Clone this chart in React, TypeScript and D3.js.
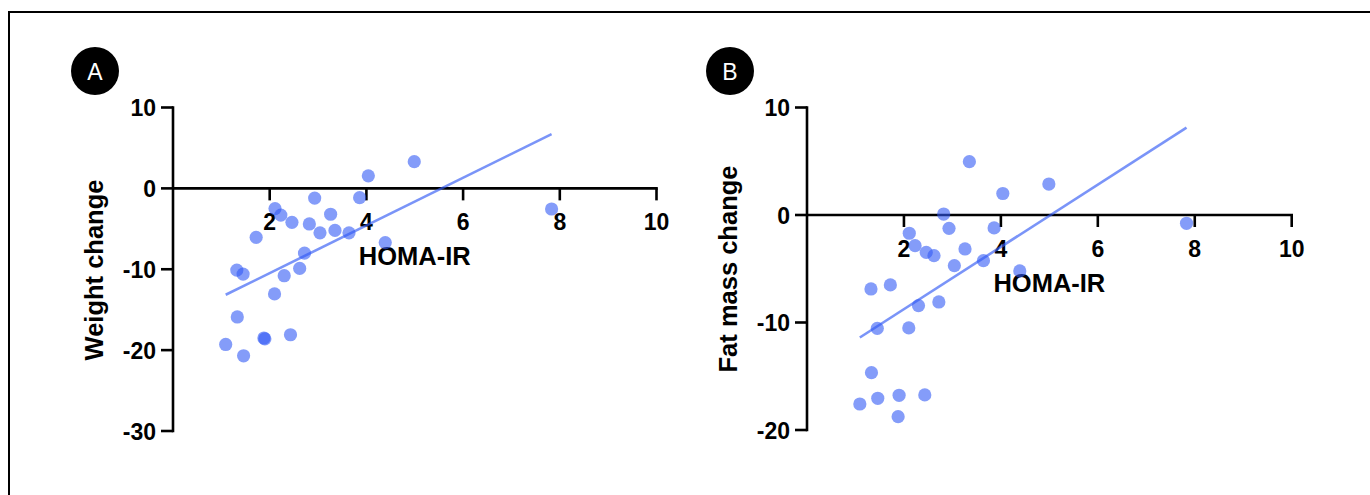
import React from "react";
import * as d3 from "d3";

const homaIR = [4.99, 4.04, 2.93, 3.86, 2.11, 2.23, 3.26, 2.46, 2.82, 3.04, 3.35, 3.64, 1.72, 4.39, 2.72, 2.62, 1.32, 1.45, 2.3, 2.1, 1.33, 1.09, 1.46, 1.88, 1.9, 2.43, 7.83];
const weightChange = [3.3, 1.55, -1.2, -1.15, -2.5, -3.3, -3.2, -4.2, -4.4, -5.5, -5.2, -5.5, -6.05, -6.7, -8.0, -9.9, -10.1, -10.6, -10.8, -13.05, -15.9, -19.3, -20.7, -18.5, -18.6, -18.1, -2.55];
const fatMassChange = [2.88, 2.0, -1.24, -1.2, -1.7, -2.85, -3.16, -3.47, 0.09, -4.71, 4.96, -4.25, -6.5, -5.2, -8.09, -3.78, -6.88, -10.54, -8.43, -10.5, -14.67, -17.58, -17.05, -18.76, -16.77, -16.74, -0.77];

const xTicks = [2, 4, 6, 8, 10];
const yTicksA = [10, 0, -10, -20, -30];
const yTicksB = [10, 0, -10, -20];

const FONT = "'Liberation Sans', Arial, Helvetica, sans-serif";
const DOT = "rgb(50,90,245)";

function fit(xs: number[], ys: number[]) {
  const mx = d3.mean(xs)!;
  const my = d3.mean(ys)!;
  let sxy = 0, sxx = 0;
  xs.forEach((x, i) => { sxy += (x - mx) * (ys[i] - my); sxx += (x - mx) * (x - mx); });
  const slope = sxy / sxx;
  return { slope, intercept: my - slope * mx };
}

type PanelProps = {
  letter: string;
  letterX: number;
  xRange: [number, number];
  yDomain: [number, number];
  yRange: [number, number];
  yTicks: number[];
  ys: number[];
  yLabel: string;
  yLabelX: number;
  yLabelY: number;
};

function Panel(p: PanelProps) {
  const x = d3.scaleLinear().domain([0, 10]).range(p.xRange);
  const y = d3.scaleLinear().domain(p.yDomain).range(p.yRange);
  const x0 = x(0);
  const y0 = y(0);
  const { slope, intercept } = fit(homaIR, p.ys);
  const [xmin, xmax] = d3.extent(homaIR) as [number, number];
  const line = d3.line<number>().x((d) => x(d)).y((d) => y(slope * d + intercept));
  const sw = 2.6;
  return (
    <g>
      <circle cx={p.letterX} cy={71} r={24} fill="#000" />
      <text x={p.letterX} y={79.5} textAnchor="middle" fill="#fff" fontFamily={FONT} fontSize={23}>{p.letter}</text>
      <line x1={x0} x2={x0} y1={y(p.yDomain[1]) - sw / 2} y2={y(p.yDomain[0]) + sw / 2} stroke="#000" strokeWidth={sw} />
      {p.yTicks.map((t) => (
        <g key={t}>
          <line x1={x0 - 12} x2={x0} y1={y(t)} y2={y(t)} stroke="#000" strokeWidth={sw} />
          <text x={x0 - 17} y={y(t) + 8.5} textAnchor="end" fontFamily={FONT} fontWeight="bold" fontSize={23}>{t}</text>
        </g>
      ))}
      <line x1={x0} x2={x(10) + sw / 2} y1={y0} y2={y0} stroke="#000" strokeWidth={sw} />
      {xTicks.map((t) => (
        <g key={t}>
          <line x1={x(t)} x2={x(t)} y1={y0} y2={y0 + 12} stroke="#000" strokeWidth={sw} />
          <text x={x(t)} y={y0 + 42} textAnchor="middle" fontFamily={FONT} fontWeight="bold" fontSize={23}>{t}</text>
        </g>
      ))}
      <text x={x(5)} y={y0 + 77} textAnchor="middle" fontFamily={FONT} fontWeight="bold" fontSize={25.5}>HOMA-IR</text>
      <text transform={`translate(${p.yLabelX},${p.yLabelY}) rotate(-90)`} textAnchor="middle" fontFamily={FONT} fontWeight="bold" fontSize={25.5}>{p.yLabel}</text>
      {homaIR.map((h, i) => (
        <circle key={i} cx={x(h)} cy={y(p.ys[i])} r={6.6} fill={DOT} fillOpacity={0.6} />
      ))}
      <path d={line([xmin, xmax]) || ""} fill="none" stroke={DOT} strokeOpacity={0.65} strokeWidth={2.6} />
    </g>
  );
}

export default function App() {
  return (
    <svg width={1370} height={495} style={{ position: "absolute", left: 0, top: 0, background: "#fff" }}>
      <rect x={0} y={0} width={1370} height={495} fill="#fff" />
      <line x1={9} x2={1370} y1={12} y2={12} stroke="#000" strokeWidth={2} />
      <line x1={9} x2={9} y1={11} y2={495} stroke="#000" strokeWidth={2} />
      <Panel letter="A" letterX={95} xRange={[173, 656.5]} yDomain={[-30, 10]} yRange={[431, 107.5]} yTicks={yTicksA} ys={weightChange} yLabel="Weight change" yLabelX={103} yLabelY={270} />
      <Panel letter="B" letterX={730} xRange={[807, 1291.7]} yDomain={[-20, 10]} yRange={[430, 107.5]} yTicks={yTicksB} ys={fatMassChange} yLabel="Fat mass change" yLabelX={737} yLabelY={269} />
    </svg>
  );
}
